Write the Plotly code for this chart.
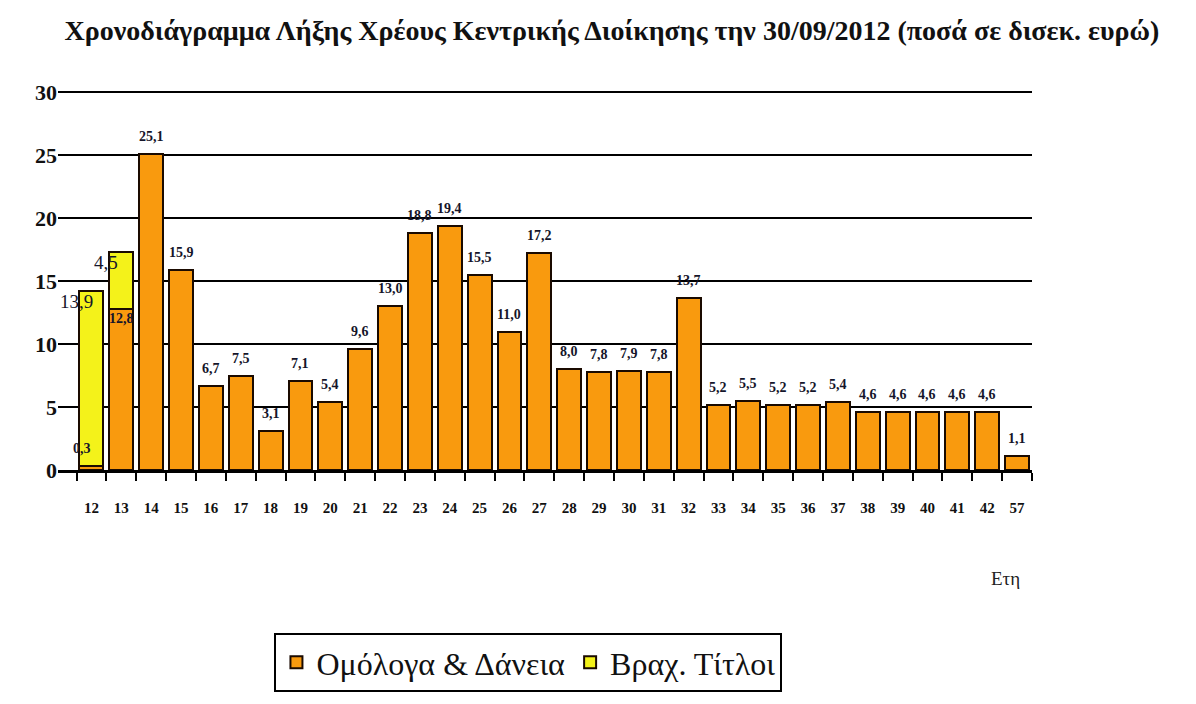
import plotly.graph_objects as go

# Δεδομένα (δισεκ. ευρώ)
years = ['12', '13', '14', '15', '16', '17', '18', '19', '20', '21', '22', '23', '24',
         '25', '26', '27', '28', '29', '30', '31', '32', '33', '34', '35', '36', '37',
         '38', '39', '40', '41', '42', '57']
bonds_loans = [0.3, 12.8, 25.1, 15.9, 6.7, 7.5, 3.1, 7.1, 5.4, 9.6, 13.0, 18.8, 19.4,
               15.5, 11.0, 17.2, 8.0, 7.8, 7.9, 7.8, 13.7, 5.2, 5.5, 5.2, 5.2, 5.4,
               4.6, 4.6, 4.6, 4.6, 4.6, 1.1]
tbills = [13.9, 4.5] + [0] * 30
yticks = [0, 5, 10, 15, 20, 25, 30]

C_BOND = '#F99A0E'
C_BILL = '#F4F21A'
SERIF = 'Liberation Serif, Times New Roman, serif'


def fmt(v):
    return f'{v:.1f}'.replace('.', ',')


fig = go.Figure()
fig.add_trace(go.Bar(
    x=years, y=bonds_loans, name='Ομόλογα & Δάνεια',
    marker=dict(color=C_BOND, line=dict(color='#1a0a00', width=2)),
))
fig.add_trace(go.Bar(
    x=years, y=tbills, name='Βραχ. Τίτλοι',
    marker=dict(color=C_BILL, line=dict(color='#1a0a00', width=2)),
))

# ετικέτες τιμών
lab_font = dict(family=SERIF, size=14, color='#15152a', weight='bold')
for i, (yr, b, t) in enumerate(zip(years, bonds_loans, tbills)):
    if t > 0:
        # στοιβαγμένες μπάρες: ετικέτες στα αριστερά
        fig.add_annotation(x=i - 0.5, y=b + t, text=fmt(t), showarrow=False,
                           xanchor='center', yanchor='top', yshift=2,
                           font=dict(family=SERIF, size=19, color='#15152a'))
        fig.add_annotation(x=i - 0.3 if i == 0 else i, y=b, text=fmt(b), showarrow=False,
                           xanchor='center', yanchor='bottom' if i == 0 else 'top',
                           yshift=8 if i == 0 else 0, font=lab_font)
    else:
        fig.add_annotation(x=i, y=b, text=fmt(b), showarrow=False,
                           xanchor='center', yanchor='bottom', yshift=8,
                           font=lab_font)

fig.add_annotation(x=0.99, y=-0.285, xref='paper', yref='paper', text='Ετη',
                   yanchor='middle', showarrow=False,
                   font=dict(family=SERIF, size=19, color='#222'))

fig.update_layout(
    barmode='stack',
    bargap=0.2,
    width=1196, height=704,
    paper_bgcolor='white', plot_bgcolor='white',
    margin=dict(l=50, r=172, t=83, b=242, autoexpand=False),
    title=dict(
        text='<b>Χρονοδιάγραμμα Λήξης Χρέους Κεντρικής Διοίκησης την 30/09/2012 (ποσά σε δισεκ. ευρώ)</b>',
        x=0.505, xref='container', xanchor='center', y=0.969, yanchor='middle',
        font=dict(family=SERIF, size=28, color='#111'),
    ),
    legend=dict(
        orientation='h', x=0.483, xanchor='center', y=-0.43, yanchor='top',
        bordercolor='black', borderwidth=2,
        font=dict(family=SERIF, size=32, color='#111'),
        traceorder='normal',
    ),
    showlegend=True,
)
fig.update_yaxes(
    range=[0, 30.1], tickvals=yticks, showgrid=True, gridcolor='black', gridwidth=2,
    zeroline=False, showline=False, ticks='', automargin=False,
    tickfont=dict(family=SERIF, size=22, color='#111', weight='bold'),
)
fig.update_xaxes(
    type='category', showline=True, linecolor='black', linewidth=3, automargin=False,
    ticks='outside', tickson='boundaries', ticklen=8, tickcolor='black', tickwidth=2,
    ticklabelstandoff=22,
    tickfont=dict(family=SERIF, size=15, color='#111', weight='bold'),
)

fig.write_html('out.html')
